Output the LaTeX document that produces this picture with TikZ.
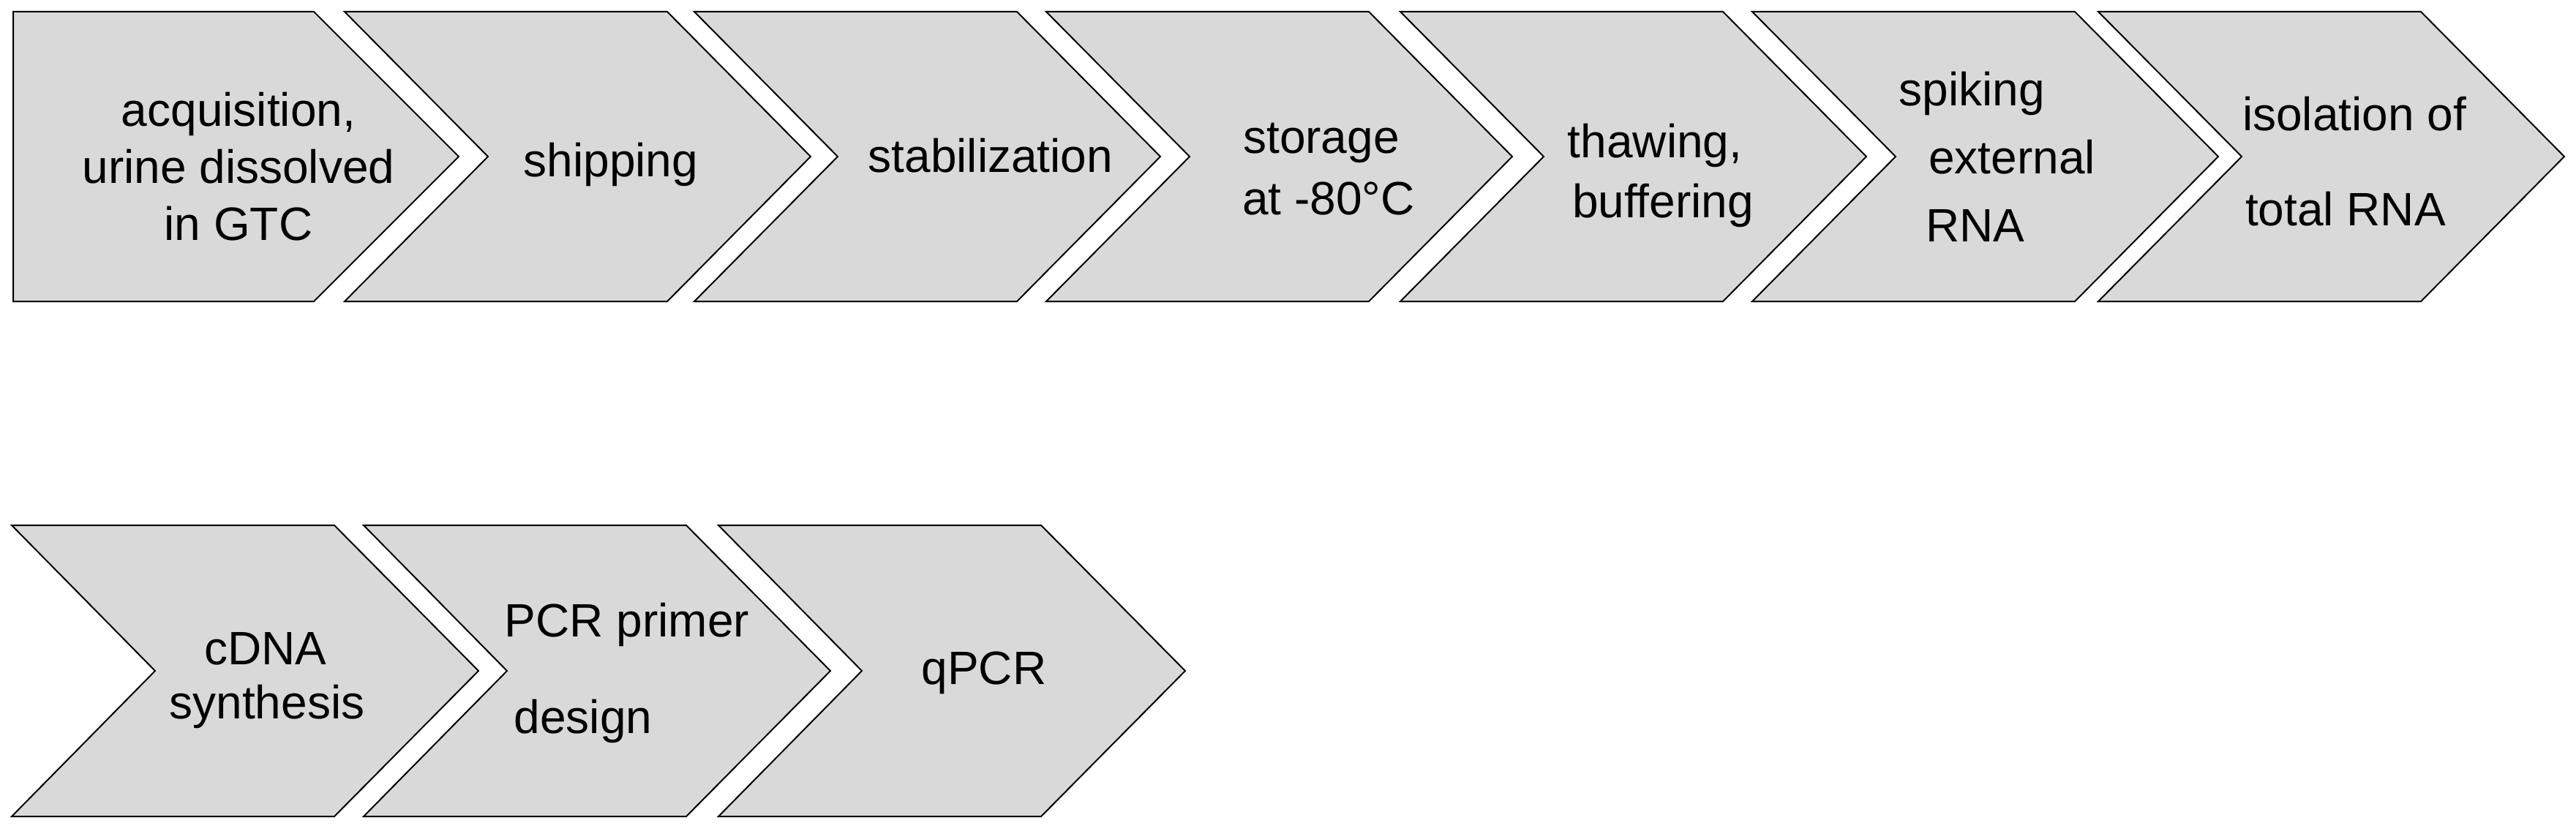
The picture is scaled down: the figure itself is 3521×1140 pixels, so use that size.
\documentclass[tikz,border=0pt]{standalone}
\usepackage{fontspec}
\setmainfont{Liberation Sans}
\begin{document}
\begin{tikzpicture}[x=1pt,y=-1pt,
  chev/.style={draw=black,line width=2pt,fill=gray!30!white,line join=miter},
  lbl/.style={font=\fontsize{64}{78}\selectfont,align=center,inner sep=0pt}]
\useasboundingbox (0,0) rectangle (3521,1140);
% top row
\draw[chev] (18,16) -- (429,16) -- (627,214) -- (429,412) -- (18,412) -- cycle;
\foreach \x in {471,949,1430,1914,2395,2868}{
  \draw[chev] (\x,16) -- ({\x+441},16) -- ({\x+637},214) -- ({\x+441},412) -- (\x,412) -- ({\x+196},214) -- cycle;
}
% bottom row
\foreach \x in {16,497,982}{
  \draw[chev] (\x,718) -- ({\x+441},718) -- ({\x+638},917) -- ({\x+441},1116) -- (\x,1116) -- ({\x+196},917) -- cycle;
}
\node[lbl] (t1) at (326,228) {acquisition,\\urine dissolved\\in GTC};
\node[lbl] (t2) at (835,225) {shipping};
\node[lbl] (t3) at (1354,213) {stabilization};
\node[lbl] (t4a) at (1806,195) {storage};
\node[lbl] (t4b) at (1816,271) {at -80°C};
\node[lbl] (t5a) at (2262,199) {thawing,};
\node[lbl] (t5b) at (2273,281) {buffering};
\node[lbl] (t6a) at (2695,128) {spiking};
\node[lbl] (t6b) at (2750,215) {external};
\node[lbl] (t6c) at (2700,308) {RNA};
\node[lbl] (t7a) at (3218,156) {isolation of};
\node[lbl] (t7b) at (3206,286) {total RNA};
\node[lbl] (b1a) at (363,887) {cDNA};
\node[lbl] (b1b) at (365,966) {synthesis};
\node[lbl] (b2a) at (857,854) {PCR primer};
\node[lbl] (b2b) at (797,986) {design};
\node[lbl] (b3) at (1345,920) {qPCR};
\end{tikzpicture}
\end{document}
